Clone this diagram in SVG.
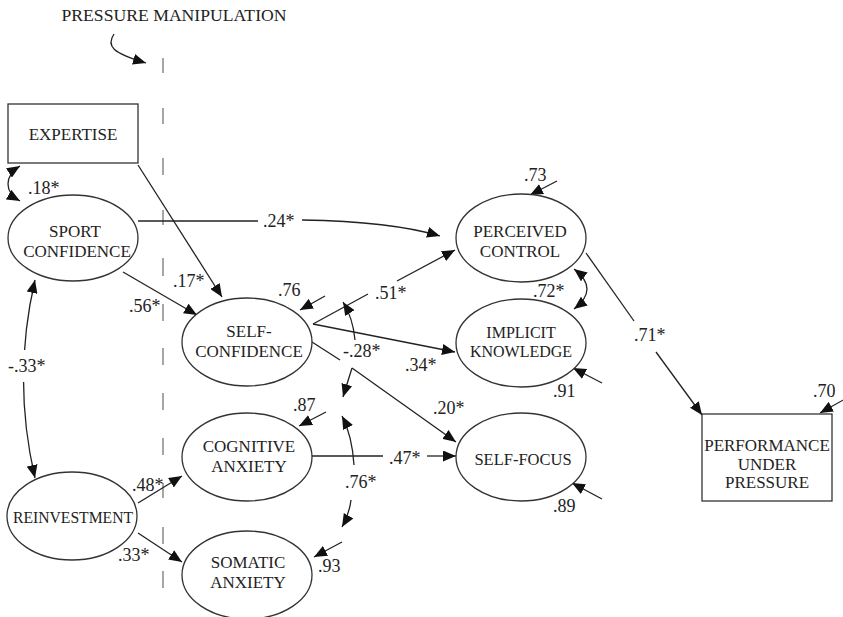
<svg xmlns="http://www.w3.org/2000/svg" width="843" height="617" viewBox="0 0 843 617">
<style>
.n{fill:#fff;stroke:#333;stroke-width:1.3}
.t{font-family:"Liberation Serif","Times New Roman",serif;font-size:17px;fill:#222;text-anchor:middle}
.v{font-family:"Liberation Serif","Times New Roman",serif;font-size:18px;fill:#222}
.c{fill:none;stroke:#222;stroke-width:1.3}
.a{marker-end:url(#ah)}
.b{marker-start:url(#ah);marker-end:url(#ah)}
.d{fill:none;stroke:#777;stroke-width:1.3}
</style>
<defs>
<marker id="ah" viewBox="0 0 13 11" refX="13" refY="5.5" markerWidth="13" markerHeight="11" markerUnits="userSpaceOnUse" orient="auto-start-reverse">
<path d="M0,0 L13,5.5 L0,11 z" fill="#111"/>
</marker>
</defs>
<rect width="843" height="617" fill="#fff"/>
<text class="t" x="174" y="21" style="font-size:17.5px" textLength="225" lengthAdjust="spacingAndGlyphs">PRESSURE MANIPULATION</text>
<path class="d" d="M163,58V73M163,108V124M163,158V175M163,210V225M163,258V276M163,304V321M163,348V365M163,393V410M163,438V455M163,483V498M163,527V544M163,571V588"/>
<g id="connectors">
<path class="c a" d="M114,34 C106,46 112,53 146,63"/>
<path class="c b" d="M20,166 C4,176 4,192 20,201"/>
<path class="c a" d="M138,165 L222,297"/>
<path class="c" d="M138,221 L258,221"/>
<path class="c a" d="M302,220 C360,221 410,227 440,236"/>
<path class="c a" d="M123,272 L197,315"/>
<path class="c b" d="M35,280 Q12,379 35,478"/>
<rect x="6" y="350" width="44" height="32" fill="#fff"/>
<path class="c a" d="M138,503 L182,476"/>
<path class="c a" d="M138,533 L182,562"/>
<path class="c" d="M313,324 L368,294"/>
<path class="c a" d="M397,281 L455,250"/>
<path class="c a" d="M313,324 L455,352"/>
<path class="c" d="M312,342 L340,360"/>
<path class="c a" d="M352,368 L456,442"/>
<path class="c a" d="M355,340 Q353,318 343,302"/>
<path class="c a" d="M352,368 L343,397"/>
<path class="c a" d="M354,465 Q352,435 342,416"/>
<path class="c a" d="M351,500 Q349,515 342,527"/>
<path class="c a" d="M325,296 L300,310"/>
<path class="c a" d="M326,412 L299,426"/>
<path class="c a" d="M342,542 L314,557"/>
<path class="c a" d="M557,181 L530,195"/>
<path class="c a" d="M602,383 L573,368"/>
<path class="c a" d="M602,499 L572,483"/>
<path class="c a" d="M845,399 L820,413"/>
<path class="c b" d="M574,269 Q600,289 574,309"/>
<path class="c" d="M586,253 L634,321"/>
<path class="c a" d="M656,352 L702,415"/>
<path class="c" d="M312,456 L383,456"/>
<path class="c a" d="M427,456 L456,456"/>
</g>
<g id="labels">
<text class="v" x="28" y="194">.18*</text>
<text class="v" x="263" y="227">.24*</text>
<text class="v" x="173" y="287">.17*</text>
<text class="v" x="129" y="312">.56*</text>
<text class="v" x="8" y="372">-.33*</text>
<text class="v" x="278" y="296">.76</text>
<text class="v" x="375" y="299">.51*</text>
<text class="v" x="343" y="357">-.28*</text>
<text class="v" x="405" y="371">.34*</text>
<text class="v" x="533" y="297">.72*</text>
<text class="v" x="524" y="181">.73</text>
<text class="v" x="553" y="397">.91</text>
<text class="v" x="634" y="341">.71*</text>
<text class="v" x="813" y="397">.70</text>
<text class="v" x="433" y="414">.20*</text>
<text class="v" x="389" y="464">.47*</text>
<text class="v" x="553" y="512">.89</text>
<text class="v" x="293" y="411">.87</text>
<text class="v" x="345" y="488">.76*</text>
<text class="v" x="318" y="572">.93</text>
<text class="v" x="132" y="491">.48*</text>
<text class="v" x="118" y="561">.33*</text>
</g>
<g id="expertise"><rect class="n" x="8" y="104" width="130" height="59"/><text class="t" x="73" y="140">EXPERTISE</text></g>
<g id="sport-confidence"><ellipse class="n" cx="73" cy="238" rx="65" ry="43"/><text class="t" x="75" y="237">SPORT</text><text class="t" x="77" y="257">CONFIDENCE</text></g>
<g id="self-confidence"><ellipse class="n" cx="247" cy="342" rx="65" ry="44"/><text class="t" x="249" y="337">SELF-</text><text class="t" x="249" y="357">CONFIDENCE</text></g>
<g id="cognitive-anxiety"><ellipse class="n" cx="247" cy="457" rx="65" ry="44"/><text class="t" x="249" y="452">COGNITIVE</text><text class="t" x="249" y="472">ANXIETY</text></g>
<g id="somatic-anxiety"><ellipse class="n" cx="247" cy="575" rx="65" ry="44"/><text class="t" x="248" y="568">SOMATIC</text><text class="t" x="248" y="588">ANXIETY</text></g>
<g id="reinvestment"><ellipse class="n" cx="72" cy="516" rx="65" ry="44"/><text class="t" x="73" y="523" style="font-size:16px" textLength="120" lengthAdjust="spacingAndGlyphs">REINVESTMENT</text></g>
<g id="perceived-control"><ellipse class="n" cx="521" cy="238" rx="65" ry="44"/><text class="t" x="520" y="237">PERCEIVED</text><text class="t" x="520" y="257">CONTROL</text></g>
<g id="implicit-knowledge"><ellipse class="n" cx="521" cy="343" rx="65" ry="44"/><text class="t" x="521" y="338" style="font-size:16px">IMPLICIT</text><text class="t" x="521" y="357" style="font-size:16px">KNOWLEDGE</text></g>
<g id="self-focus"><ellipse class="n" cx="521" cy="457" rx="65" ry="44"/><text class="t" x="523" y="465" style="font-size:16.5px">SELF-FOCUS</text></g>
<g id="performance"><rect class="n" x="702" y="414" width="130" height="87"/><text class="t" x="767" y="451">PERFORMANCE</text><text class="t" x="767" y="470">UNDER</text><text class="t" x="767" y="488">PRESSURE</text></g>
</svg>
